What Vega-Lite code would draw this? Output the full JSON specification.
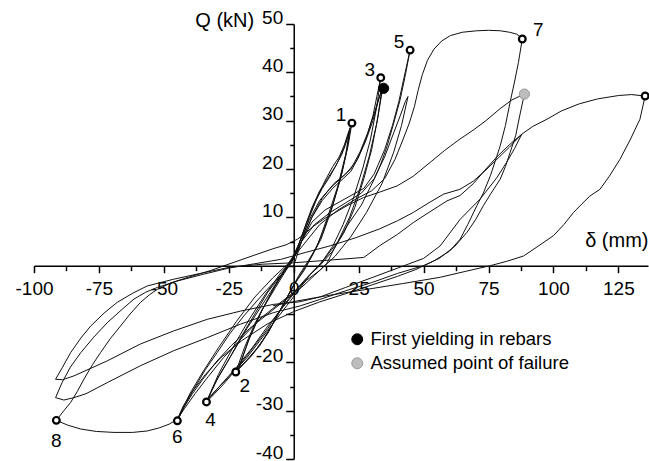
{
  "$schema": "https://vega.github.io/schema/vega-lite/v6.json",
  "width": 614,
  "height": 435,
  "autosize": "none",
  "padding": {"left": 34, "top": 24, "right": 1, "bottom": 2},
  "config": {"view": {"stroke": null}, "font": "Liberation Sans"},
  "datasets": {
    "path": [
      {"x":0,"y":0},{"x":3,"y":5},{"x":6,"y":10},{"x":9,"y":14},{"x":12,"y":17.5},{"x":15,"y":20.5},{"x":17.5,"y":22.5},{"x":19.5,"y":25},{"x":21,"y":27.5},{"x":22.4,"y":29.5},
      {"x":21,"y":25},{"x":18.5,"y":19},{"x":15,"y":12.5},{"x":11,"y":6.5},{"x":7,"y":2},{"x":4,"y":-1},
      {"x":0,"y":-4},{"x":-4,"y":-8},{"x":-8,"y":-12},{"x":-12,"y":-15.5},{"x":-16,"y":-18.5},{"x":-19.5,"y":-20.5},{"x":-22.3,"y":-22},
      {"x":-19,"y":-17},{"x":-15,"y":-12},{"x":-10,"y":-7},{"x":-6,"y":-3},{"x":-2,"y":0.5},
      {"x":1,"y":3},{"x":4,"y":7.5},{"x":7,"y":12},{"x":10,"y":15.5},{"x":13,"y":18},{"x":16,"y":20.5},{"x":18.5,"y":23},{"x":20.5,"y":26},{"x":21.8,"y":28.5},
      {"x":20.5,"y":24},{"x":18,"y":18},{"x":14.5,"y":11.5},{"x":10.5,"y":5.5},{"x":6.5,"y":1.5},{"x":3,"y":-1.5},
      {"x":-1,"y":-5},{"x":-5,"y":-9},{"x":-9,"y":-13},{"x":-13,"y":-16.5},{"x":-17,"y":-19},{"x":-21,"y":-21.2},
      {"x":-17.5,"y":-15.5},{"x":-13,"y":-10},{"x":-8,"y":-5},{"x":-4,"y":-1.5},{"x":-1,"y":1},
      {"x":2,"y":4.5},{"x":5,"y":9},{"x":8,"y":13},{"x":11,"y":16},{"x":14,"y":18.5},{"x":17,"y":21.5},{"x":19.5,"y":24.5},{"x":21.5,"y":28},
      {"x":20,"y":23},{"x":17,"y":16.5},{"x":13,"y":10},{"x":9,"y":4},{"x":5,"y":0.5},{"x":2,"y":-2},
      {"x":-2,"y":-6},{"x":-6,"y":-10},{"x":-10,"y":-14},{"x":-14,"y":-17},{"x":-18,"y":-19.5},{"x":-21.5,"y":-21.5},
      {"x":-17,"y":-15},{"x":-12,"y":-9},{"x":-7,"y":-4.5},{"x":-3,"y":-1},{"x":0,"y":1.5},
      {"x":3,"y":5},{"x":7,"y":10},{"x":11,"y":13.5},{"x":15,"y":16},{"x":19,"y":18},{"x":22,"y":19.5},{"x":25,"y":22.5},{"x":28,"y":26.5},{"x":30.5,"y":31},{"x":32,"y":35},{"x":33.5,"y":38.9},
      {"x":32,"y":33},{"x":29.5,"y":26},{"x":26.5,"y":20},{"x":23,"y":14},{"x":19,"y":8.5},{"x":15,"y":4},{"x":10.5,"y":0.5},{"x":6,"y":-2},
      {"x":2,"y":-5},{"x":-3,"y":-8.5},{"x":-8,"y":-12},{"x":-13,"y":-15.5},{"x":-18,"y":-19},{"x":-23,"y":-22},{"x":-27,"y":-24.5},{"x":-30.5,"y":-26.5},{"x":-33.6,"y":-28.2},
      {"x":-30,"y":-24},{"x":-25.6,"y":-20},{"x":-20,"y":-14.5},{"x":-15,"y":-10},{"x":-10,"y":-5.5},{"x":-5,"y":-2},{"x":-1,"y":1},
      {"x":2,"y":4.5},{"x":6,"y":9.5},{"x":10,"y":13.5},{"x":14,"y":16},{"x":18,"y":18},{"x":22,"y":20},{"x":25.5,"y":23.5},{"x":28.5,"y":27.5},{"x":31,"y":31.5},{"x":33,"y":35},{"x":34.3,"y":37},
      {"x":32.5,"y":31},{"x":30,"y":24},{"x":27,"y":18},{"x":23.5,"y":12},{"x":19.5,"y":7},{"x":15,"y":3},{"x":10,"y":0},{"x":5,"y":-2.5},
      {"x":0,"y":-5.5},{"x":-5,"y":-9},{"x":-10,"y":-13},{"x":-15,"y":-16.5},{"x":-20,"y":-20},{"x":-25,"y":-23},{"x":-29.5,"y":-25.5},{"x":-33,"y":-27.5},
      {"x":-29,"y":-23},{"x":-24,"y":-18.5},{"x":-18,"y":-13},{"x":-12,"y":-8},{"x":-6,"y":-3},{"x":-1,"y":0.5},
      {"x":3,"y":5},{"x":7,"y":10},{"x":11,"y":14},{"x":15.5,"y":17},{"x":20,"y":19},{"x":24,"y":21.5},{"x":27.5,"y":25.5},{"x":30.5,"y":30},{"x":32.5,"y":34},{"x":34,"y":36.5},
      {"x":32,"y":29.5},{"x":29,"y":22.5},{"x":25.5,"y":16},{"x":21.5,"y":10},{"x":17,"y":5},{"x":12,"y":1.5},{"x":7,"y":-1.5},
      {"x":2,"y":-4.5},{"x":-4,"y":-8.5},{"x":-10,"y":-12.5},{"x":-16,"y":-17},{"x":-22,"y":-21},{"x":-27,"y":-24},{"x":-31,"y":-26.5},{"x":-33.3,"y":-27.8},
      {"x":-29,"y":-22.5},{"x":-23,"y":-16.5},{"x":-17,"y":-11},{"x":-11,"y":-6},{"x":-5,"y":-1.5},{"x":0,"y":1.5},
      {"x":3,"y":5},{"x":7,"y":9},{"x":12,"y":11.5},{"x":17,"y":13},{"x":22,"y":14.5},{"x":27,"y":16},{"x":31,"y":19},{"x":35,"y":24},{"x":38,"y":29},{"x":40.5,"y":34},{"x":42.5,"y":39},{"x":44.8,"y":44.6},
      {"x":43,"y":39.5},{"x":41,"y":34.4},{"x":38.5,"y":29.5},{"x":36,"y":24.8},{"x":33.5,"y":21},{"x":31,"y":17.9},{"x":26,"y":12.5},{"x":20.5,"y":8.2},{"x":16,"y":4},{"x":12.8,"y":0.5},{"x":8,"y":-2},
      {"x":3,"y":-4.5},{"x":-3,"y":-7},{"x":-10,"y":-10},{"x":-17,"y":-13},{"x":-24,"y":-16.5},{"x":-30,"y":-20},{"x":-35,"y":-23.5},{"x":-39,"y":-26.5},{"x":-42.5,"y":-29.5},{"x":-44.8,"y":-32.1},
      {"x":-41.5,"y":-28.5},{"x":-38.5,"y":-25.6},{"x":-34,"y":-21.5},{"x":-29.5,"y":-18},{"x":-24.5,"y":-14},{"x":-19.2,"y":-10.4},{"x":-14.5,"y":-7.5},{"x":-10.2,"y":-4.9},{"x":-5,"y":-2},{"x":-1,"y":0.5},
      {"x":3,"y":5},{"x":8,"y":8.5},{"x":14,"y":11},{"x":20,"y":13},{"x":26,"y":15},{"x":31,"y":18},{"x":35,"y":22.5},{"x":38.5,"y":27.5},{"x":41,"y":31},{"x":43,"y":34},{"x":44,"y":35},
      {"x":41.5,"y":29},{"x":38.5,"y":23.5},{"x":34,"y":17},{"x":28,"y":11},{"x":22,"y":6},{"x":16,"y":2},{"x":10,"y":-1},{"x":5,"y":-3},
      {"x":0,"y":-5.5},{"x":-6,"y":-8},{"x":-13,"y":-11},{"x":-20,"y":-15},{"x":-27,"y":-19},{"x":-33,"y":-23},{"x":-38,"y":-26.5},{"x":-42,"y":-29.5},{"x":-44.5,"y":-31.5},
      {"x":-40,"y":-26.5},{"x":-35,"y":-22},{"x":-29,"y":-17},{"x":-22,"y":-11.5},{"x":-15,"y":-6.5},{"x":-8,"y":-2.5},{"x":-2,"y":0.5},
      {"x":4,"y":4.5},{"x":10,"y":8.5},{"x":17,"y":11.5},{"x":24,"y":13.8},{"x":30,"y":15.5},{"x":35,"y":18},{"x":39,"y":22},{"x":42,"y":26},{"x":44.5,"y":29.5},{"x":46.5,"y":33},{"x":48,"y":36.5},{"x":49.5,"y":39.5},{"x":51.5,"y":42.5},{"x":54,"y":44.8},{"x":57,"y":46.5},{"x":60.3,"y":47.6},{"x":65,"y":48.3},{"x":70.5,"y":48.6},{"x":75,"y":48.7},{"x":79.5,"y":48.6},{"x":83,"y":48.3},{"x":85.9,"y":47.9},{"x":88,"y":46.9},
      {"x":86.5,"y":42},{"x":85,"y":38},{"x":83.3,"y":33.8},{"x":81.5,"y":29},{"x":79.5,"y":24.8},{"x":77.5,"y":21.5},{"x":75.7,"y":18.6},{"x":73,"y":15},{"x":70.5,"y":12.4},{"x":67,"y":8.5},{"x":64.1,"y":5.5},{"x":60,"y":3},{"x":54,"y":1},{"x":47,"y":-0.8},{"x":40,"y":-2.2},{"x":30,"y":-4},{"x":20,"y":-5.8},{"x":10,"y":-7.5},{"x":0,"y":-9.5},{"x":-10,"y":-12},{"x":-20,"y":-15.5},{"x":-28,"y":-19},{"x":-34,"y":-22.5},{"x":-39,"y":-26},{"x":-42.5,"y":-29},{"x":-44.8,"y":-31.8},
      {"x":-48,"y":-32.8},{"x":-52,"y":-33.6},{"x":-56.4,"y":-34.2},{"x":-62,"y":-34.5},{"x":-69.2,"y":-34.5},{"x":-76,"y":-34.3},{"x":-82,"y":-33.8},{"x":-87,"y":-33},{"x":-91.4,"y":-32},
      {"x":-88.5,"y":-30},{"x":-85.9,"y":-28.3},{"x":-83.3,"y":-26},{"x":-80.8,"y":-23.5},{"x":-77.5,"y":-20.5},{"x":-74.4,"y":-18},{"x":-70.5,"y":-15},{"x":-66.7,"y":-12.5},{"x":-63,"y":-10},{"x":-59,"y":-7.6},{"x":-55.5,"y":-6},{"x":-52.5,"y":-4.9},{"x":-47,"y":-3.5},{"x":-40,"y":-2.3},{"x":-32,"y":-1},{"x":-23,"y":0.7},{"x":-15,"y":2.2},{"x":-8,"y":3.5},{"x":-3,"y":4.3},{"x":1.5,"y":5.5},
      {"x":4,"y":6.5},{"x":7.7,"y":8.2},{"x":12,"y":9.8},{"x":16,"y":11},{"x":20.5,"y":12.4},{"x":26.9,"y":14.1},{"x":33,"y":15.2},{"x":39.8,"y":16.5},{"x":46,"y":18.5},{"x":52.6,"y":21.4},{"x":58,"y":23.8},{"x":64,"y":26.2},{"x":69,"y":28},{"x":74,"y":30},{"x":79.5,"y":32.5},{"x":84,"y":34.3},{"x":88.8,"y":35.5},
      {"x":87,"y":31},{"x":85.5,"y":27},{"x":83.3,"y":23.4},{"x":81.5,"y":20.5},{"x":79.5,"y":17.9},{"x":76,"y":15},{"x":73,"y":12.4},{"x":70,"y":9.5},{"x":66.7,"y":6.9},{"x":62,"y":4},{"x":56,"y":1.5},{"x":50,"y":0},{"x":40,"y":-1.6},{"x":30,"y":-3.5},{"x":20,"y":-5.2},{"x":10,"y":-7},{"x":2.6,"y":-8.3},{"x":-7.7,"y":-9.7},{"x":-20.5,"y":-12.1},{"x":-33.3,"y":-14.9},{"x":-46.2,"y":-17.6},{"x":-59,"y":-20.7},{"x":-71.8,"y":-24.2},{"x":-80,"y":-26.5},{"x":-84.6,"y":-27.3},{"x":-88.5,"y":-27.8},{"x":-91.7,"y":-27.3},
      {"x":-89.2,"y":-24.2},{"x":-86,"y":-21},{"x":-82,"y":-18},{"x":-77,"y":-14.8},{"x":-71.8,"y":-11.8},{"x":-66,"y":-9},{"x":-61.5,"y":-6.9},{"x":-57,"y":-5.5},{"x":-52.5,"y":-4.5},{"x":-45,"y":-3.2},{"x":-35,"y":-1.8},{"x":-25,"y":-0.5},{"x":-15,"y":0.4},{"x":-5,"y":1.3},{"x":5,"y":2.8},{"x":14,"y":4.1},{"x":24,"y":5.8},{"x":33,"y":7.6},{"x":40,"y":9.3},{"x":46,"y":11},{"x":52,"y":13},{"x":57.7,"y":14.8},{"x":64,"y":15.8},{"x":69.2,"y":17.5},{"x":74,"y":19.8},{"x":78.2,"y":22},{"x":83,"y":24.5},{"x":87.8,"y":27.2},
      {"x":85,"y":24.2},{"x":82,"y":21.4},{"x":78.2,"y":18.2},{"x":71.8,"y":13.8},{"x":64.1,"y":9.6},{"x":56.4,"y":4.1},{"x":50,"y":1.5},{"x":40,"y":-0.5},{"x":30,"y":-2.5},{"x":20,"y":-4.5},{"x":10,"y":-6.5},{"x":2,"y":-7.5},{"x":-7.7,"y":-8},{"x":-20.5,"y":-9.4},{"x":-33.3,"y":-11.1},{"x":-46.2,"y":-13.5},{"x":-59,"y":-16.2},{"x":-71.8,"y":-19.7},{"x":-84.6,"y":-22.8},{"x":-89,"y":-23.6},{"x":-91.7,"y":-23.5},
      {"x":-89,"y":-21},{"x":-85.9,"y":-18},{"x":-82,"y":-15},{"x":-78.2,"y":-12.5},{"x":-73,"y":-9.8},{"x":-68,"y":-7.6},{"x":-62,"y":-5.7},{"x":-56.4,"y":-4.2},{"x":-46.2,"y":-2.8},{"x":-35,"y":-1.5},{"x":-24.4,"y":-0.3},{"x":-12,"y":0.3},{"x":0,"y":0.6},{"x":15,"y":1.2},{"x":27,"y":1.7},{"x":33,"y":4.1},{"x":40,"y":6.5},{"x":46,"y":8.9},{"x":52,"y":11},{"x":59,"y":13.4},{"x":64,"y":14.5},{"x":69.2,"y":17},{"x":74,"y":20},{"x":78.2,"y":22.5},{"x":83,"y":25},{"x":87.8,"y":27.2},{"x":92,"y":28.8},{"x":97.5,"y":30.3},{"x":103,"y":32},{"x":110,"y":33.5},{"x":117,"y":34.5},{"x":125,"y":35.2},{"x":130,"y":35.4},{"x":135.3,"y":35.1},
      {"x":133.3,"y":30.3},{"x":129.5,"y":26},{"x":125.6,"y":22},{"x":121.5,"y":18.5},{"x":117.9,"y":15.8},{"x":114,"y":14.4},{"x":111,"y":12.8},{"x":107.7,"y":11},{"x":104,"y":8.5},{"x":100,"y":6.2},{"x":94,"y":4},{"x":88.5,"y":2},{"x":82,"y":0.9},{"x":75.7,"y":0},{"x":66,"y":-1.2},{"x":56.4,"y":-2.4},{"x":42,"y":-3.7},{"x":28.2,"y":-4.9},{"x":14,"y":-6.1},{"x":1.3,"y":-7.3},{"x":-8,"y":-8.3}
    ],
    "peaks": [
      {"n":"1","x":22.4,"y":29.5},{"n":"2","x":-22.3,"y":-22},{"n":"3","x":33.5,"y":38.9},{"n":"4","x":-33.6,"y":-28.2},
      {"n":"5","x":44.8,"y":44.6},{"n":"6","x":-44.8,"y":-32.1},{"n":"7","x":88,"y":46.9},{"n":"8","x":-91.4,"y":-32},{"n":"","x":135.3,"y":35.1}
    ],
    "special": [
      {"kind":"First yielding in rebars","x":34.6,"y":36.7},
      {"kind":"Assumed point of failure","x":88.8,"y":35.5}
    ]
  },
  "layer": [
    {
      "data": {"name": "path"},
      "mark": {"type": "line", "color": "#111111", "strokeWidth": 1},
      "encoding": {
        "x": {"field": "x", "type": "quantitative", "scale": {"domain": [-100, 136.4], "nice": false, "zero": false},
          "axis": {"orient": "bottom", "offset": -193.33, "values": [-100,-75,-50,-25,0,25,50,75,100,125],
            "labelExpr": "datum.value < 0 ? '-' + (-datum.value) : '' + datum.value",
            "tickSize": 7, "tickWidth": 1.5, "tickColor": "black", "domainColor": "black", "domainWidth": 1.5,
            "labelFontSize": 19, "labelColor": "black", "labelPadding": 7, "labelFlush": false, "labelOverlap": false, "grid": false,
            "title": "δ (mm)", "titleFontSize": 20, "titleFontWeight": "normal", "titleColor": "black",
            "titleX": 614, "titleY": -19, "titleAlign": "right", "titleBaseline": "alphabetic", "titleAnchor": null}},
        "y": {"field": "y", "type": "quantitative", "scale": {"domain": [-40, 50], "nice": false, "zero": false},
          "axis": {"orient": "left", "offset": -259.73, "values": [-40,-30,-20,-10,0,10,20,30,40,50],
            "labelExpr": "datum.value == 0 || datum.value == -10 ? '' : (datum.value < 0 ? '-' + (-datum.value) : '' + datum.value)",
            "tickSize": 8, "tickWidth": 1.5, "tickColor": "black", "domainColor": "black", "domainWidth": 1.5,
            "labelFontSize": 19, "labelColor": "black", "labelPadding": 3, "labelBaseline": "alphabetic", "labelOffset": -1,
            "labelFlush": false, "labelOverlap": false, "grid": false,
            "title": "Q (kN)", "titleFontSize": 20, "titleFontWeight": "normal", "titleColor": "black", "titleAngle": 0,
            "titleX": -40, "titleY": 2, "titleAlign": "right", "titleBaseline": "alphabetic", "titleAnchor": null}},
        "order": {"value": null}
      }
    },
    {
      "data": {"name": "peaks"},
      "mark": {"type": "circle", "size": 45, "fill": "white", "stroke": "black", "strokeWidth": 2.2, "opacity": 1},
      "encoding": {
        "x": {"field": "x", "type": "quantitative", "scale": {"domain": [-100, 136.4], "nice": false, "zero": false},
          "axis": {"orient": "bottom", "offset": -193.33, "values": [-87.5,-62.5,-37.5,-12.5,12.5,37.5,62.5,87.5,112.5],
            "tickSize": 5, "tickWidth": 1.5, "tickColor": "black", "labels": false, "domain": false, "grid": false, "title": null}},
        "y": {"field": "y", "type": "quantitative", "scale": {"domain": [-40, 50], "nice": false, "zero": false},
          "axis": {"orient": "left", "offset": -259.73, "values": [-35,-25,-15,-5,5,15,25,35,45],
            "tickSize": 4, "tickWidth": 1.5, "tickColor": "black", "labels": false, "domain": false, "grid": false, "title": null}}
      }
    },
    {
      "data": {"name": "special"},
      "mark": {"type": "circle", "size": 105, "opacity": 1, "strokeWidth": 1},
      "encoding": {
        "x": {"field": "x", "type": "quantitative", "scale": {"domain": [-100, 136.4], "nice": false, "zero": false}, "axis": null},
        "y": {"field": "y", "type": "quantitative", "scale": {"domain": [-40, 50], "nice": false, "zero": false}, "axis": null},
        "fill": {"field": "kind", "type": "nominal",
          "scale": {"domain": ["First yielding in rebars", "Assumed point of failure"], "range": ["#000000", "#bdbdbd"]},
          "legend": {"orient": "none", "legendX": 314, "legendY": 306, "title": null, "padding": 0,
            "labelFontSize": 18.5, "labelColor": "black", "labelOffset": 4, "labelLimit": 0, "rowPadding": 5, "symbolSize": 120,
            "symbolStrokeWidth": 1}},
        "stroke": {"field": "kind", "type": "nominal",
          "scale": {"domain": ["First yielding in rebars", "Assumed point of failure"], "range": ["#000000", "#9a9a9a"]}}
      }
    },
    {
      "data": {"name": "peaks"},
      "transform": [{"filter": "datum.n == '1' || datum.n == '3' || datum.n == '5'"}],
      "mark": {"type": "text", "dx": -11, "dy": -8, "fontSize": 19, "color": "black"},
      "encoding": {
        "x": {"field": "x", "type": "quantitative", "scale": {"domain": [-100, 136.4], "nice": false, "zero": false}, "axis": null},
        "y": {"field": "y", "type": "quantitative", "scale": {"domain": [-40, 50], "nice": false, "zero": false}, "axis": null},
        "text": {"field": "n"}
      }
    },
    {
      "data": {"name": "peaks"},
      "transform": [{"filter": "datum.n == '7'"}],
      "mark": {"type": "text", "dx": 16, "dy": -9, "fontSize": 19, "color": "black"},
      "encoding": {
        "x": {"field": "x", "type": "quantitative", "scale": {"domain": [-100, 136.4], "nice": false, "zero": false}, "axis": null},
        "y": {"field": "y", "type": "quantitative", "scale": {"domain": [-40, 50], "nice": false, "zero": false}, "axis": null},
        "text": {"field": "n"}
      }
    },
    {
      "data": {"name": "peaks"},
      "transform": [{"filter": "datum.n == '2'"}],
      "mark": {"type": "text", "dx": 9, "dy": 14, "fontSize": 19, "color": "black"},
      "encoding": {
        "x": {"field": "x", "type": "quantitative", "scale": {"domain": [-100, 136.4], "nice": false, "zero": false}, "axis": null},
        "y": {"field": "y", "type": "quantitative", "scale": {"domain": [-40, 50], "nice": false, "zero": false}, "axis": null},
        "text": {"field": "n"}
      }
    },
    {
      "data": {"name": "peaks"},
      "transform": [{"filter": "datum.n == '4'"}],
      "mark": {"type": "text", "dx": 4, "dy": 18, "fontSize": 19, "color": "black"},
      "encoding": {
        "x": {"field": "x", "type": "quantitative", "scale": {"domain": [-100, 136.4], "nice": false, "zero": false}, "axis": null},
        "y": {"field": "y", "type": "quantitative", "scale": {"domain": [-40, 50], "nice": false, "zero": false}, "axis": null},
        "text": {"field": "n"}
      }
    },
    {
      "data": {"name": "peaks"},
      "transform": [{"filter": "datum.n == '6'"}],
      "mark": {"type": "text", "dx": 0, "dy": 16, "fontSize": 19, "color": "black"},
      "encoding": {
        "x": {"field": "x", "type": "quantitative", "scale": {"domain": [-100, 136.4], "nice": false, "zero": false}, "axis": null},
        "y": {"field": "y", "type": "quantitative", "scale": {"domain": [-40, 50], "nice": false, "zero": false}, "axis": null},
        "text": {"field": "n"}
      }
    },
    {
      "data": {"name": "peaks"},
      "transform": [{"filter": "datum.n == '8'"}],
      "mark": {"type": "text", "dx": 0, "dy": 21, "fontSize": 19, "color": "black"},
      "encoding": {
        "x": {"field": "x", "type": "quantitative", "scale": {"domain": [-100, 136.4], "nice": false, "zero": false}, "axis": null},
        "y": {"field": "y", "type": "quantitative", "scale": {"domain": [-40, 50], "nice": false, "zero": false}, "axis": null},
        "text": {"field": "n"}
      }
    }
  ],
  "resolve": {"axis": {"x": "independent", "y": "independent"}}
}
